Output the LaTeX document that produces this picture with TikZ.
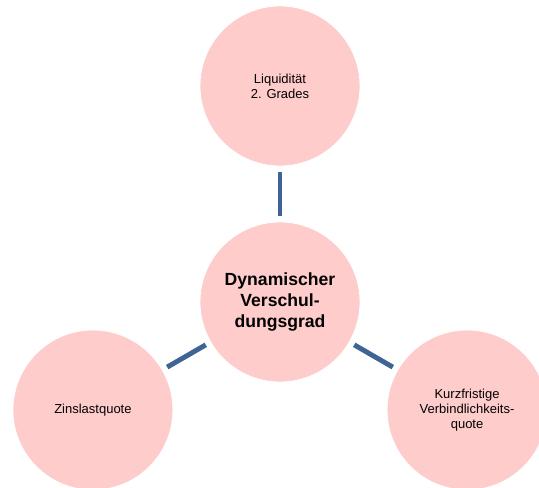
\documentclass[tikz,border=0pt]{standalone}
\usepackage{fontspec}
\setmainfont{Liberation Sans}
\usepackage{tikz}
\usetikzlibrary{calc}
\definecolor{rosa}{RGB}{255,204,204}
\definecolor{stahlblau}{RGB}{62,100,150}

\begin{document}
\begin{tikzpicture}[x=0.75bp,y=0.75bp]
      \tikzstyle{kreis}=[circle,fill=rosa,draw=white,line width=0.6bp,minimum size=120bp,inner sep=0pt,align=center,font=\fontsize{9.75bp}{11.25bp}\selectfont]
      \tikzstyle{mitte}=[kreis,font=\fontsize{13.2bp}{16bp}\selectfont\bfseries]
      \tikzstyle{verb}=[stahlblau,line width=3.7bp,shorten <=4bp,shorten >=4bp]
      \useasboundingbox (0,0) rectangle (539,488);
      \clip (0,0) rectangle (539,488);
      \node[mitte] (dvg) at (280,186) {Dynamischer\\Verschul-\\dungsgrad};
      % drei Kennzahlen rundherum
      \node[kreis] (liq) at ($(dvg)+(90:216)$) {Liquidität\\2. Grades};
      \node[kreis] (zins) at ($(dvg)+(210:216)$) {Zinslastquote};
      \node[kreis] (kvq) at ($(dvg)+(330:216)$) {Kurzfristige\\Verbindlichkeits-\\quote};
      % Verbindungen
      \draw[verb] (dvg) -- (liq);
      \draw[verb] (dvg) -- (zins);
      \draw[verb] (dvg) -- (kvq);
    \end{tikzpicture}
\end{document}
